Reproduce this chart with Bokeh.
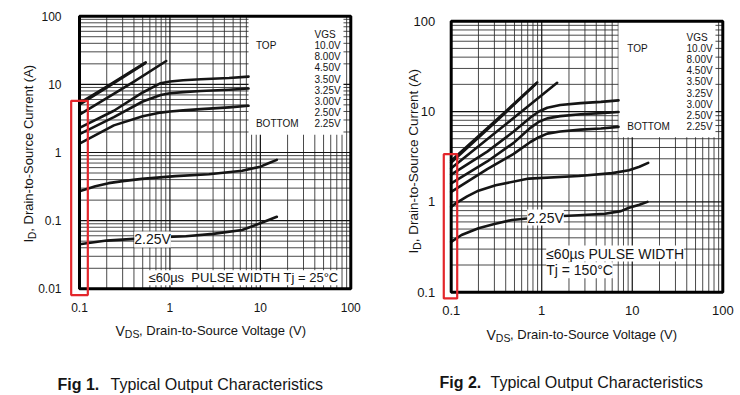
import math
from bokeh.plotting import figure
from bokeh.models import Label, FixedTicker, CustomJSTickFormatter, Range1d
from bokeh.layouts import row
from bokeh.embed import file_html
from bokeh.resources import INLINE

FONT = "Liberation Sans"
INK = "#151515"
RED = "#e3262b"

# ---------------- data ----------------
vgs_labels = ["10.0V", "8.00V", "4.50V", "3.50V", "3.25V", "3.00V", "2.50V", "2.25V"]
x_tick_vals = [0.1, 1, 10, 100]
x_tick_labels = ["0.1", "1", "10", "100"]
y1_tick_vals = [0.01, 0.1, 1, 10, 100]
y1_tick_labels = ["0.01", "0.1", "1", "10", "100"]
y2_tick_vals = [0.1, 1, 10, 100]
y2_tick_labels = ["0.1", "1", "10", "100"]

# Fig 1, Tj = 25 C
f1_x_10v = [0.1, 0.2, 0.54]
f1_y_10v = [5.3, 9.3, 21.0]
f1_x_8v = [0.1, 0.2, 0.53]
f1_y_8v = [5.05, 8.95, 20.3]
f1_x_45v = [0.1, 0.2, 0.4, 0.91]
f1_y_45v = [3.6, 6.3, 11.0, 22.0]
f1_x_35v = [0.1, 0.24, 0.5, 0.79, 1.0, 1.4, 2.2, 4.5, 7.4]
f1_y_35v = [2.3, 4.1, 7.6, 10.4, 11.0, 11.5, 11.9, 12.4, 13.0]
f1_x_325v = [0.1, 0.24, 0.5, 0.79, 1.0, 1.4, 2.2, 4.5, 7.4]
f1_y_325v = [1.86, 3.3, 5.6, 7.0, 7.4, 7.7, 8.0, 8.35, 8.7]
f1_x_30v = [0.1, 0.24, 0.5, 0.79, 1.0, 1.4, 2.2, 4.5, 7.4]
f1_y_30v = [1.35, 2.5, 3.4, 3.85, 4.0, 4.15, 4.33, 4.6, 4.85]
f1_x_25v = [0.1, 0.15, 0.21, 0.3, 0.49, 1.15, 2.7, 6.3, 10.0, 12.5, 15.2]
f1_y_25v = [0.27, 0.32, 0.355, 0.38, 0.41, 0.45, 0.48, 0.54, 0.62, 0.70, 0.78]
f1_x_225v = [0.1, 0.2, 0.4, 0.8, 1.5, 3.0, 6.3, 10.5, 15.2]
f1_y_225v = [0.045, 0.051, 0.054, 0.057, 0.059, 0.064, 0.073, 0.094, 0.114]

# Fig 2, Tj = 150 C
f2_x_10v = [0.1, 0.3, 0.89]
f2_y_10v = [2.85, 7.7, 21.0]
f2_x_8v = [0.1, 0.3, 0.87]
f2_y_8v = [2.72, 7.45, 20.4]
f2_x_45v = [0.1, 0.5, 1.48]
f2_y_45v = [2.35, 8.65, 20.8]
f2_x_35v = [0.1, 0.25, 0.49, 0.75, 0.93, 1.15, 1.6, 2.7, 4.5, 7.05]
f2_y_35v = [2.0, 3.6, 6.0, 8.6, 10.0, 11.0, 11.8, 12.4, 12.8, 13.3]
f2_x_325v = [0.1, 0.25, 0.49, 0.75, 0.93, 1.15, 1.6, 2.7, 4.5, 7.05]
f2_y_325v = [1.6, 2.8, 4.5, 6.6, 7.7, 8.4, 8.9, 9.35, 9.6, 9.9]
f2_x_30v = [0.1, 0.25, 0.49, 0.75, 0.93, 1.15, 1.6, 2.7, 4.5, 7.05]
f2_y_30v = [1.29, 2.3, 3.4, 4.6, 5.2, 5.7, 6.0, 6.3, 6.5, 6.76]
f2_x_25v = [0.1, 0.112, 0.15, 0.2, 0.31, 0.72, 2.57, 6.0, 9.2, 12.0, 15.0]
f2_y_25v = [0.88, 0.96, 1.15, 1.33, 1.53, 1.81, 1.93, 2.08, 2.24, 2.45, 2.7]
f2_x_225v = [0.1, 0.13, 0.2, 0.3, 0.47, 1.0, 2.57, 5.0, 7.5, 9.2, 12.0, 14.7]
f2_y_225v = [0.36, 0.43, 0.51, 0.57, 0.63, 0.68, 0.71, 0.74, 0.79, 0.86, 0.93, 1.0]

# highlighted region (red box) and legend box extents, in data units
f1_red = dict(left=0.0809, right=0.1236, bottom=0.00809, top=5.74)
f2_red = dict(left=0.0828, right=0.1165, bottom=0.0853, top=3.37)
f1_leg = dict(left=7.4, right=83.0, bottom=1.82, top=100.0)
f2_leg = dict(left=7.05, right=83.0, bottom=5.2, top=100.0)


def grid_vals(lo, hi):
    major, minor = [], []
    d = lo
    while d < hi * 0.999:
        major.append(d)
        for k in range(2, 10):
            minor.append(d * k)
        d *= 10
    major.append(hi)
    return major, minor


def fmt(vals, labs):
    return CustomJSTickFormatter(args=dict(vals=vals, labs=labs), code="""
        let best = 0, bd = 1e9;
        for (let i = 0; i < vals.length; i++) {
            const d = Math.abs(Math.log10(vals[i]) - Math.log10(tick));
            if (d < bd) { bd = d; best = i; }
        }
        return labs[best];
    """)


def lab(p, x, y, text, dx=0, dy=0, size="13px", align="left", baseline="middle",
        angle=0, bold=False, bg=None):
    l = Label(x=x, y=y, x_offset=dx, y_offset=dy, text=text, text_font=FONT,
              text_font_size=size, text_align=align, text_baseline=baseline,
              angle=angle, text_color=INK,
              text_font_style="bold" if bold else "normal")
    if bg:
        l.background_fill_color = bg
    p.add_layout(l)


def log_range(v0, p0, per_decade, size, flip=False):
    # value v0 sits at canvas pixel p0; per_decade pixels per decade
    if flip:  # vertical: pixels grow downward
        return (v0 * 10 ** ((p0 - size) / per_decade), v0 * 10 ** (p0 / per_decade))
    return (v0 * 10 ** (-p0 / per_decade), v0 * 10 ** ((size - p0) / per_decade))


def make_fig(width, height, xr, yr, xlo, xhi, ylo, yhi, yvals, ylabs, tick_size,
             x_standoff, y_standoff):
    p = figure(width=width, height=height, x_axis_type="log", y_axis_type="log",
               x_range=Range1d(*xr), y_range=Range1d(*yr), title=None,
               output_backend="svg", toolbar_location=None,
               min_border_left=0, min_border_right=0,
               min_border_top=0, min_border_bottom=0)
    p.grid.visible = False
    p.outline_line_color = None
    p.background_fill_color = "white"
    p.border_fill_color = "white"
    p.xaxis.ticker = FixedTicker(ticks=x_tick_vals, minor_ticks=[])
    p.yaxis.ticker = FixedTicker(ticks=yvals, minor_ticks=[])
    p.xaxis.formatter = fmt(x_tick_vals, x_tick_labels)
    p.yaxis.formatter = fmt(yvals, ylabs)
    p.xaxis.fixed_location = ylo
    p.yaxis.fixed_location = xlo
    p.xaxis.major_label_standoff = x_standoff
    p.yaxis.major_label_standoff = y_standoff
    for ax in list(p.xaxis) + list(p.yaxis):
        ax.axis_line_color = None
        ax.major_tick_line_color = None
        ax.minor_tick_line_color = None
        ax.major_label_text_font = FONT
        ax.major_label_text_font_size = tick_size
        ax.major_label_text_color = INK
    # grid
    xmaj, xmin = grid_vals(xlo, xhi)
    ymaj, ymin = grid_vals(ylo, yhi)
    p.segment(x0=xmin, y0=[ylo] * len(xmin), x1=xmin, y1=[yhi] * len(xmin),
              line_color="#2a2a2a", line_width=1, line_alpha=0.85)
    p.segment(x0=[xlo] * len(ymin), y0=ymin, x1=[xhi] * len(ymin), y1=ymin,
              line_color="#2a2a2a", line_width=1, line_alpha=0.85)
    p.segment(x0=xmaj, y0=[ylo] * len(xmaj), x1=xmaj, y1=[yhi] * len(xmaj),
              line_color="#111111", line_width=1.2)
    p.segment(x0=[xlo] * len(ymaj), y0=ymaj, x1=[xhi] * len(ymaj), y1=ymaj,
              line_color="#111111", line_width=1.2)
    return p


def add_curves(p, curves, leg):
    p.quad(left=[leg["left"]], right=[leg["right"]], bottom=[leg["bottom"]],
           top=[leg["top"]], fill_color="white", line_color=None)
    for xs, ys in curves:
        p.line(xs, ys, line_color=INK, line_width=2.6, line_join="round", line_cap="round")


def add_frame(p, xlo, xhi, ylo, yhi, red):
    p.quad(left=[xlo], right=[xhi], bottom=[ylo], top=[yhi], fill_color=None,
           line_color="black", line_width=3)
    p.quad(left=[red["left"]], right=[red["right"]], bottom=[red["bottom"]],
           top=[red["top"]], fill_color=None, line_color=RED, line_width=2.2)


def add_legend(p, leg, dx_top, dx_val, dy_head, dy_first, step):
    lab(p, leg["left"], leg["top"], "VGS", dx=dx_val, dy=dy_head, size="10px")
    lab(p, leg["left"], leg["top"], "TOP", dx=dx_top, dy=dy_first, size="10px")
    lab(p, leg["left"], leg["top"], "BOTTOM", dx=dx_top,
        dy=dy_first - step * (len(vgs_labels) - 1), size="10px")
    for i, t in enumerate(vgs_labels):
        lab(p, leg["left"], leg["top"], t, dx=dx_val, dy=dy_first - step * i, size="10px")


W1, W2, H = 380, 360, 395

# ---------------- Figure 1 ----------------
p1 = make_fig(W1, H, log_range(0.1, 79, 90.43, W1), log_range(0.01, 288.3, 68.15, H, flip=True),
              0.1, 100, 0.01, 100, y1_tick_vals, y1_tick_labels, "12px", 8, 12)
add_curves(p1, [(f1_x_10v, f1_y_10v), (f1_x_8v, f1_y_8v), (f1_x_45v, f1_y_45v),
                (f1_x_35v, f1_y_35v), (f1_x_325v, f1_y_325v), (f1_x_30v, f1_y_30v),
                (f1_x_25v, f1_y_25v), (f1_x_225v, f1_y_225v)], f1_leg)
add_frame(p1, 0.1, 100, 0.01, 100, f1_red)
add_legend(p1, f1_leg, 7.4, 66, -18.6, -29.3, 11.2)
lab(p1, 0.643, 0.053, "2.25V", size="14px", align="center", bg="white")
lab(p1, 0.58, 0.0145, "\u226460\u00b5s\u00a0 PULSE WIDTH Tj = 25\u00b0C", size="13px", bg="white")
# axis titles
lab(p1, 0.1, 0.01, "I", dx=-50.7, dy=46.3, size="13px", baseline="alphabetic", angle=math.pi / 2)
lab(p1, 0.1, 0.01, "D", dx=-47.3, dy=49.9, size="10px", baseline="alphabetic", angle=math.pi / 2)
lab(p1, 0.1, 0.01, ", Drain-to-Source Current (A)", dx=-50.7, dy=57.1, size="13px",
    baseline="alphabetic", angle=math.pi / 2)
lab(p1, 0.1, 0.01, "V", dx=36, dy=-42.0, size="14px", baseline="alphabetic")
lab(p1, 0.1, 0.01, "DS", dx=45.3, dy=-45.2, size="10.5px", baseline="alphabetic")
lab(p1, 0.1, 0.01, ", Drain-to-Source Voltage (V)", dx=59.6, dy=-42.0, size="13px",
    baseline="alphabetic")
# caption
lab(p1, 0.1, 0.01, "Fig 1.", dx=-22, dy=-95.5, size="16px", baseline="alphabetic", bold=True)
lab(p1, 0.1, 0.01, "Typical Output Characteristics", dx=31, dy=-95.5, size="16px",
    baseline="alphabetic")

# ---------------- Figure 2 ----------------
p2 = make_fig(W2, H, log_range(0.1, 70.7, 90.53, W2), log_range(0.1, 291.7, 90.33, H, flip=True),
              0.1, 100, 0.1, 100, y2_tick_vals, y2_tick_labels, "13px", 8, 10)
add_curves(p2, [(f2_x_10v, f2_y_10v), (f2_x_8v, f2_y_8v), (f2_x_45v, f2_y_45v),
                (f2_x_35v, f2_y_35v), (f2_x_325v, f2_y_325v), (f2_x_30v, f2_y_30v),
                (f2_x_25v, f2_y_25v), (f2_x_225v, f2_y_225v)], f2_leg)
add_frame(p2, 0.1, 100, 0.1, 100, f2_red)
add_legend(p2, f2_leg, 8.7, 68, -16.3, -27.6, 11.05)
lab(p2, 1.1, 0.67, "2.25V", size="14px", align="center", bg="white")
lab(p2, 1.12, 0.268, "\u226460\u00b5s PULSE WIDTH", size="14px", bg="white")
lab(p2, 1.12, 0.175, "Tj = 150\u00b0C", size="14px", bg="white")
lab(p2, 0.1, 0.1, "I", dx=-37.7, dy=38.7, size="13.5px", baseline="alphabetic", angle=math.pi / 2)
lab(p2, 0.1, 0.1, "D", dx=-34.3, dy=42.4, size="10.5px", baseline="alphabetic", angle=math.pi / 2)
lab(p2, 0.1, 0.1, ", Drain-to-Source Current (A)", dx=-37.7, dy=50.0, size="13.5px",
    baseline="alphabetic", angle=math.pi / 2)
lab(p2, 0.1, 0.1, "V", dx=35.3, dy=-42.3, size="14px", baseline="alphabetic")
lab(p2, 0.1, 0.1, "DS", dx=44.6, dy=-45.5, size="10.5px", baseline="alphabetic")
lab(p2, 0.1, 0.1, ", Drain-to-Source Voltage (V)", dx=58.9, dy=-42.3, size="13px",
    baseline="alphabetic")
lab(p2, 0.1, 0.1, "Fig 2.", dx=-11.7, dy=-90.0, size="16px", baseline="alphabetic", bold=True)
lab(p2, 0.1, 0.1, "Typical Output Characteristics", dx=39.3, dy=-90.0, size="16px",
    baseline="alphabetic")

layout = row(p1, p2)
open("out.html", "w").write(file_html(layout, INLINE))
